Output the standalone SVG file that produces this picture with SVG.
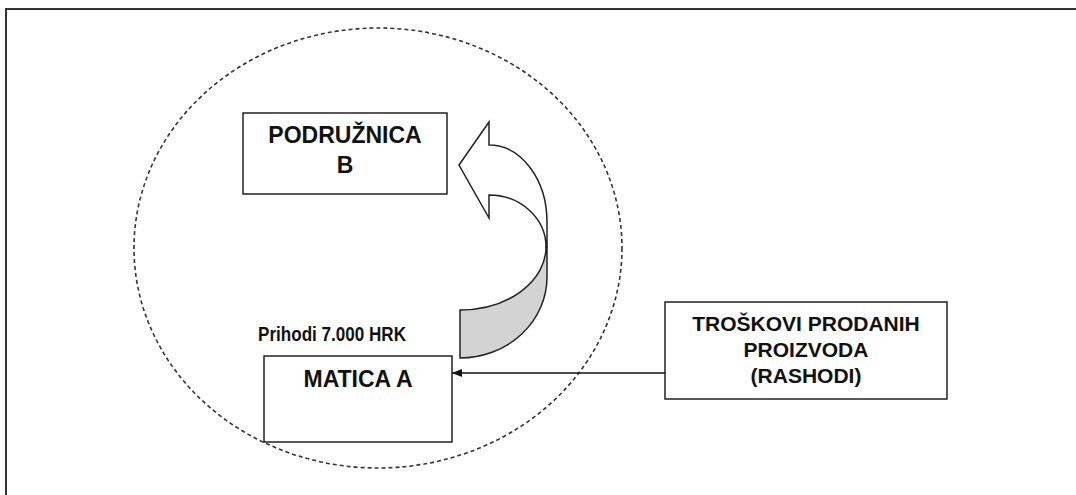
<svg xmlns="http://www.w3.org/2000/svg" width="1076" height="495" viewBox="0 0 1076 495">
<style>
.box{fill:#fff;stroke:#222;stroke-width:1.5}
.t{font-family:"Liberation Sans",Arial,sans-serif;font-weight:bold;fill:#111;text-anchor:middle}
.s{font-family:"Liberation Sans",Arial,sans-serif;font-weight:bold;fill:#111;text-anchor:start}
</style>
<defs>
<marker id="ah" markerWidth="10" markerHeight="8" refX="10" refY="4" orient="auto" markerUnits="userSpaceOnUse">
<path d="M0,0 L10,4 L0,8 Z" fill="#111"/>
</marker>
</defs>
<rect width="1076" height="495" fill="#fff"/>
<path d="M6,495 V9 H1076" fill="none" stroke="#333" stroke-width="2"/>
<ellipse cx="378" cy="248" rx="244" ry="220" fill="none" stroke="#333" stroke-width="1.6" stroke-dasharray="4 3"/>
<g id="arrow">
<path d="M546,247 A86 63 0 0 1 460,310 L460,358 A87 81 0 0 0 547,277 L547,247 Z" fill="#d3d3d3" stroke="#222" stroke-width="1.5"/>
<path d="M459,165 L489,122 L489,145 A58 77 0 0 1 547,222 L547,247 L546,247 A57 52 0 0 0 489,195 L489,218 Z" fill="#fff" stroke="#222" stroke-width="1.5"/>
</g>
<g id="podruznica">
<rect class="box" x="243" y="113" width="204" height="81"/>
<text class="t" x="345" y="143" font-size="23">PODRUŽNICA</text>
<text class="t" x="345" y="173" font-size="23">B</text>
</g>
<g id="matica">
<rect class="box" x="264" y="356" width="188" height="86"/>
<text class="t" x="358" y="387" font-size="23">MATICA A</text>
</g>
<text id="prihodi" class="s" x="258" y="341" font-size="20" textLength="148" lengthAdjust="spacingAndGlyphs">Prihodi 7.000 HRK</text>
<g id="troskovi">
<rect class="box" x="665" y="302" width="282" height="97"/>
<text class="t" x="806" y="331" font-size="21">TROŠKOVI PRODANIH</text>
<text class="t" x="806" y="357" font-size="21">PROIZVODA</text>
<text class="t" x="806" y="383" font-size="21">(RASHODI)</text>
</g>
<g id="connectors">
<line x1="665" y1="373" x2="452" y2="373" stroke="#111" stroke-width="1.5" marker-end="url(#ah)"/>
</g>
</svg>
